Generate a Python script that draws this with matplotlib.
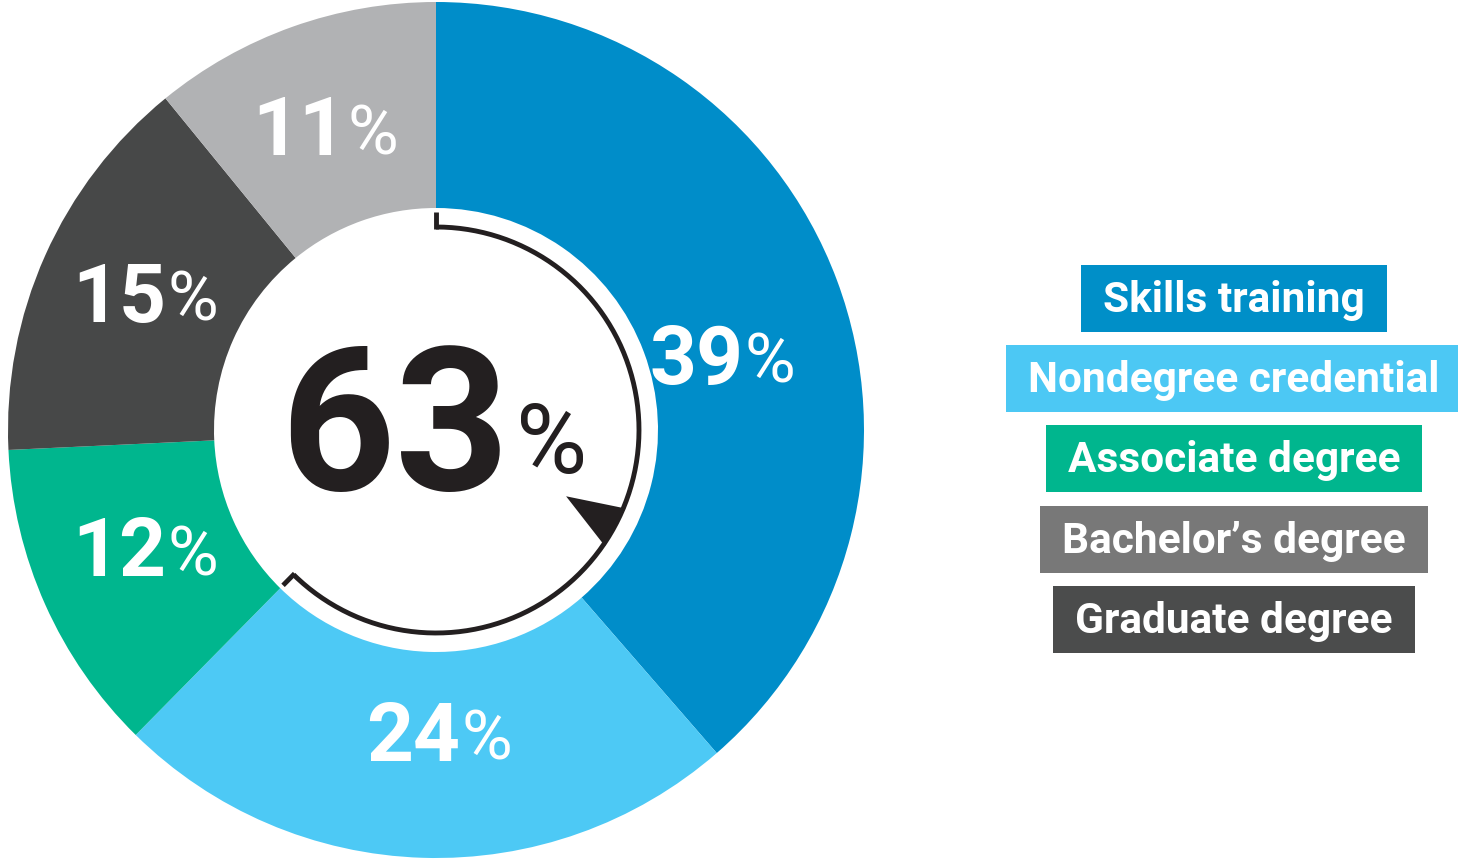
import numpy as np
import matplotlib
matplotlib.use("Agg")
import matplotlib.pyplot as plt
from matplotlib.patches import Rectangle, Polygon

# Data (clockwise from 12 o'clock)
wedge_labels = ["Skills training", "Nondegree credential", "Associate degree",
                "Graduate degree", "Bachelor's degree"]
wedge_values = [39, 24, 12, 15, 11]
wedge_colors = ["#008DC9", "#4DC9F5", "#00B68E", "#474848", "#B1B2B4"]

legend_labels = ["Skills training", "Nondegree credential", "Associate degree",
                 "Bachelor\u2019s degree", "Graduate degree"]
legend_colors = ["#008FC8", "#4CC8F4", "#00B68E", "#787878", "#4B4C4C"]

highlight_count = 2  # first two wedges make up the centre figure
dark = "#231F20"

# small hand nudges (pixels) for the ring labels
label_nudge = [(0, -44), (19, 0), (0, 0), (0, 0), (0, 0)]

plt.rcParams["font.family"] = ["Roboto", "DejaVu Sans"]

fig = plt.figure(figsize=(14.58, 8.59), dpi=100)
ax = fig.add_axes([0, 0, 1, 1])

cx, cy = 436, 429
r_out, r_in = 428, 222

wedges, _ = ax.pie(wedge_values, colors=wedge_colors, startangle=90,
                   counterclock=False, radius=r_out, center=(cx, cy),
                   wedgeprops=dict(width=r_out - r_in, linewidth=0))

ax.set_xlim(0, 1458)
ax.set_ylim(0, 859)
ax.set_aspect("equal")
ax.axis("off")

# Percentage labels on the ring
for w, v, (nx, ny) in zip(wedges, wedge_values, label_nudge):
    mid = np.deg2rad((w.theta1 + w.theta2) / 2)
    lx = cx + 312 * np.cos(mid) + nx
    ly = cy + 312 * np.sin(mid) + ny
    base = ly - 19
    ax.text(lx + 15, base, f"{v}", ha="right", va="baseline", fontsize=59,
            fontweight="bold", color="white")
    ax.text(lx + 16, base + 1, "%", ha="left", va="baseline", fontsize=50,
            color="white")

# Centre total
total = sum(wedge_values[:highlight_count])
ax.text(cx + 74, cy - 60, f"{total}", ha="right", va="baseline", fontsize=144,
        fontweight="bold", color=dark)
ax.text(cx + 80, cy - 43, "%", ha="left", va="baseline", fontsize=70,
        color=dark)

# Inner arc spanning the highlighted share
r_arc = 203
span = 360 * total / sum(wedge_values)
theta = np.deg2rad(np.linspace(90, 90 - span, 300))
ax.plot(cx + r_arc * np.cos(theta), cy + r_arc * np.sin(theta),
        color=dark, lw=3.5, solid_capstyle="butt")
for a in (90, 90 - span):
    t = np.deg2rad(a)
    ax.plot([cx + (r_arc - 1.5) * np.cos(t), cx + 218 * np.cos(t)],
            [cy + (r_arc - 1.5) * np.sin(t), cy + 218 * np.sin(t)],
            color=dark, lw=3.5, solid_capstyle="butt")

# Pointer on the arc
pts = []
for a, r in [(-22.5, r_arc + 2), (-34.5, r_arc + 2), (-27.0, 146)]:
    t = np.deg2rad(a)
    pts.append((cx + r * np.cos(t), cy + r * np.sin(t)))
ax.add_patch(Polygon(pts, closed=True, facecolor=dark, edgecolor="none"))

# Legend boxes
renderer = fig.canvas.get_renderer()
leg_x = 1234
leg_y = [859 - 298.5, 859 - 378.5, 859 - 458.5, 859 - 539, 859 - 619.5]
for lab, col, y in zip(legend_labels, legend_colors, leg_y):
    t = ax.text(leg_x, y - 2, lab, ha="center", va="center", fontsize=30.5,
                fontweight="bold", color="white", zorder=3)
    bb = t.get_window_extent(renderer)
    ax.add_patch(Rectangle((bb.x0 - 22, y - 33.5), bb.width + 44, 67,
                           facecolor=col, edgecolor="none", zorder=2))

fig.savefig("out.png", dpi=100)
